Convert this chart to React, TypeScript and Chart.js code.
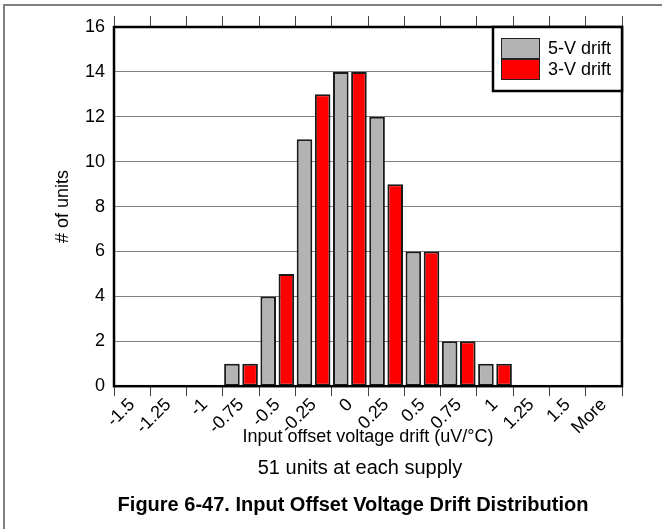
import React, { useEffect, useRef } from "react";
import { Chart, registerables } from "chart.js";

Chart.register(...registerables);

const categories = ["-1.5", "-1.25", "-1", "-0.75", "-0.5", "-0.25", "0", "0.25", "0.5", "0.75", "1", "1.25", "1.5", "More"];
const drift5V = [0, 0, 0, 1, 4, 11, 14, 12, 6, 2, 1, 0, 0, 0];
const drift3V = [0, 0, 0, 1, 5, 13, 14, 9, 6, 2, 1, 0, 0, 0];
const seriesLabels = ["5-V drift", "3-V drift"];
const seriesColors = ["#b3b3b3", "#ff0000"];
const yMin = 0;
const yMax = 16;
const yStep = 2;
const xTitle = "Input offset voltage drift (uV/°C)";
const yTitle = "# of units";
const noteText = "51 units at each supply";
const captionText = "Figure 6-47. Input Offset Voltage Drift Distribution";

const FONT = "'Liberation Sans', Arial, Helvetica, sans-serif";
const W = 662;
const H = 529;

const backgroundPlugin = {
  id: "bgFrame",
  beforeDraw(chart: any) {
    const ctx = chart.ctx;
    ctx.save();
    ctx.fillStyle = "#ffffff";
    ctx.fillRect(0, 0, chart.width, chart.height);
    ctx.fillStyle = "#808080";
    ctx.fillRect(3, 4, chart.width - 3, 2);
    ctx.fillRect(3, 4, 2, chart.height - 4);
    ctx.restore();
  },
};

const plotFramePlugin = {
  id: "plotFrame",
  afterDatasetsDraw(chart: any) {
    const { ctx, chartArea } = chart;
    ctx.save();
    ctx.strokeStyle = "#000000";
    ctx.lineWidth = 2.5;
    ctx.strokeRect(chartArea.left, chartArea.top, chartArea.right - chartArea.left, chartArea.bottom - chartArea.top);
    ctx.restore();
  },
};

const legendBoxPlugin = {
  id: "legendBox",
  afterDraw(chart: any) {
    const { ctx, chartArea } = chart;
    const boxW = 129;
    const boxH = 64;
    const left = chartArea.right - boxW;
    const top = chartArea.top;
    ctx.save();
    ctx.fillStyle = "#ffffff";
    ctx.fillRect(left, top, boxW, boxH);
    ctx.strokeStyle = "#000000";
    ctx.lineWidth = 2.5;
    ctx.strokeRect(left, top, boxW, boxH);
    const datasets = chart.data.datasets;
    datasets.forEach((ds: any, i: number) => {
      const sy = top + 11 + i * 21;
      ctx.fillStyle = ds.backgroundColor;
      ctx.fillRect(left + 8, sy, 39, 21);
      ctx.strokeStyle = "#222222";
      ctx.lineWidth = 1;
      ctx.strokeRect(left + 8.5, sy + 0.5, 38, 20);
      ctx.fillStyle = "#000000";
      ctx.font = `18px ${FONT}`;
      ctx.textAlign = "left";
      ctx.textBaseline = "middle";
      ctx.fillText(ds.label, left + 55, sy + 11);
    });
    ctx.restore();
  },
};

const captionPlugin = {
  id: "captions",
  afterDraw(chart: any) {
    const ctx = chart.ctx;
    ctx.save();
    ctx.fillStyle = "#000000";
    ctx.textAlign = "center";
    ctx.textBaseline = "middle";
    ctx.font = `20px ${FONT}`;
    ctx.fillText(noteText, 360, 468);
    ctx.font = `bold 20px ${FONT}`;
    ctx.fillText(captionText, 353, 505);
    ctx.restore();
  },
};

export default function App() {
  const canvasRef = useRef<HTMLCanvasElement | null>(null);

  useEffect(() => {
    const canvas = canvasRef.current;
    if (!canvas) return;
    const padLeft = 52;
    const padTop = 16;
    const padRight = 40;
    const padBottom = 81;
    const chart = new Chart(canvas, {
      type: "bar",
      data: {
        labels: categories,
        datasets: [
          {
            label: seriesLabels[0],
            data: drift5V,
            backgroundColor: seriesColors[0],
            borderColor: "#1a1a1a",
            borderWidth: 2,
            borderSkipped: false,
            barPercentage: 0.86,
            categoryPercentage: 1.0,
          },
          {
            label: seriesLabels[1],
            data: drift3V,
            backgroundColor: seriesColors[1],
            borderColor: "#1a1a1a",
            borderWidth: 2,
            borderSkipped: false,
            barPercentage: 0.86,
            categoryPercentage: 1.0,
          },
        ],
      },
      options: {
        responsive: false,
        animation: false,
        devicePixelRatio: 1,
        layout: { padding: { left: padLeft, top: padTop, right: padRight, bottom: padBottom } },
        plugins: {
          legend: { display: false },
          tooltip: { enabled: false },
        },
        scales: {
          x: {
            type: "category",
            offset: true,
            grid: {
              offset: true,
              drawOnChartArea: false,
              drawTicks: true,
              tickLength: 10,
              color: "#444444",
              lineWidth: 1,
            },
            border: { display: false },
            ticks: {
              minRotation: 45,
              maxRotation: 45,
              autoSkip: false,
              color: "#000000",
              padding: -2,
              font: { family: FONT, size: 18 },
            },
            title: {
              display: true,
              text: xTitle,
              color: "#000000",
              font: { family: FONT, size: 18 },
              padding: { top: 0, bottom: 0 },
            },
            afterFit(scale: any) {
              scale.height = 61.8;
            },
          },
          x2: {
            type: "category",
            position: "top",
            labels: categories,
            offset: true,
            grid: {
              offset: true,
              drawOnChartArea: false,
              drawTicks: true,
              tickLength: 11,
              color: "#444444",
              lineWidth: 1,
            },
            border: { display: false },
            ticks: { display: false },
            afterFit(scale: any) {
              scale.height = 11;
            },
          },
          y: {
            min: yMin,
            max: yMax,
            ticks: {
              stepSize: yStep,
              color: "#000000",
              padding: 9,
              font: { family: FONT, size: 18 },
            },
            grid: {
              color: "#808080",
              lineWidth: 1,
              drawTicks: false,
            },
            border: { display: false },
            title: {
              display: true,
              text: yTitle,
              color: "#000000",
              font: { family: FONT, size: 18 },
              padding: { top: 0, bottom: 0 },
            },
            afterFit(scale: any) {
              scale.width = 62;
            },
          },
        },
      },
      plugins: [backgroundPlugin, plotFramePlugin, legendBoxPlugin, captionPlugin],
    } as any);
    return () => {
      chart.destroy();
    };
  }, []);

  return (
    <div style={{ position: "absolute", left: 0, top: 0, width: W, height: H }}>
      <canvas ref={canvasRef} width={W} height={H} style={{ width: W, height: H, display: "block" }} />
    </div>
  );
}
